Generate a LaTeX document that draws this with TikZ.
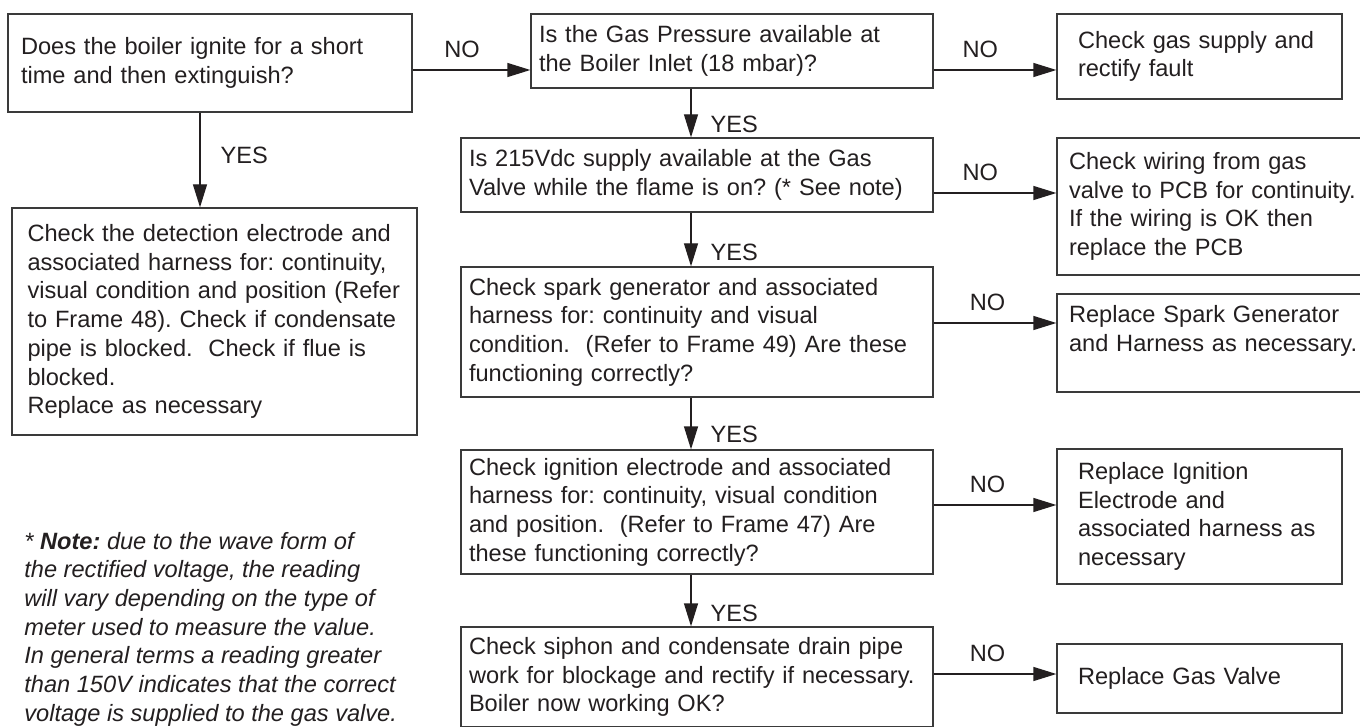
\documentclass[tikz,border=0pt]{standalone}
\usepackage{fontspec}
\setmainfont{Liberation Sans}
\usepackage{xcolor}
\definecolor{flowLine}{HTML}{3A3A3A}
\definecolor{flowText}{HTML}{231F20}
\usetikzlibrary{arrows.meta}
\frenchspacing
\hyphenpenalty=10000

\begin{document}
\begin{tikzpicture}[x=0.5pt, y=-0.5pt,
  box/.style={draw=flowLine, line width=0.65pt, rectangle, align=left, inner ysep=0pt, text=flowText, font=\fontsize{11.8}{14.35}\selectfont},
  midbox/.style={box, text width=228pt, inner xsep=4pt},
  sidebox/.style={box, text width=121.5pt, inner xsep=10.5pt},
  widebox/.style={box, text width=149pt, inner xsep=6pt},
  flow/.style={draw=flowText, line width=0.65pt, -{Triangle[length=11.5pt,width=7pt]}},
  lbl/.style={inner sep=0pt, text=flowText, font=\fontsize{11.8}{14.35}\selectfont}]
  \useasboundingbox (0,0) rectangle (1360,727);
  \fill[white] (0,0) rectangle (1360,727);
  \node[box, text width=189pt, inner xsep=6.5pt, minimum height=49pt] (start) at (210,63) {Does the boiler ignite for a short\\time and then extinguish?};
  \node[box, text width=187pt, inner xsep=7.75pt, minimum height=113.5pt] (detect) at (214.5,321.5) {Check the detection electrode and\\associated harness for: continuity,\\visual condition and position (Refer\\to Frame 48). Check if condensate\\pipe is blocked.\ \ Check if flue is\\blocked.\\Replace as necessary};
  \node[box, text width=193pt, inner xsep=4pt, minimum height=37pt] (pressure) at (732,51) {Is the Gas Pressure available at\\the Boiler Inlet (18 mbar)?};
  \node[sidebox, minimum height=42.5pt] (supply) at (1199.5,56.5) {Check gas supply and\\rectify fault};
  \node[midbox, minimum height=37pt] (volts) at (697,175) {Is 215Vdc supply available at the Gas\\Valve while the flame is on? (* See note)};
  \node[widebox, minimum height=68.5pt] (wiring) at (1218,206.5) {Check wiring from gas\\valve to PCB for continuity.\\If the wiring is OK then\\replace the PCB};
  \node[midbox, minimum height=65pt] (spark) at (697,332) {Check spark generator and associated\\harness for: continuity and visual\\condition.\ \ (Refer to Frame 49) Are these\\functioning correctly?};
  \node[widebox, minimum height=49pt] (sparkfix) at (1218,343) {Replace Spark Generator\\and Harness as necessary.\\\mbox{}};
  \node[midbox, minimum height=62pt] (ignite) at (697,512) {Check ignition electrode and associated\\harness for: continuity, visual condition\\and position.\ \ (Refer to Frame 47) Are\\these functioning correctly?};
  \node[sidebox, minimum height=67.5pt] (ignfix) at (1199.5,516.5) {Replace Ignition\\Electrode and\\associated harness as\\necessary};
  \node[midbox, minimum height=50pt] (siphon) at (697,677) {Check siphon and condensate drain pipe\\work for blockage and rectify if necessary.\\Boiler now working OK?};
  \node[sidebox, minimum height=34.5pt] (valvefix) at (1199.5,678.5) {Replace Gas Valve};
  \node[lbl, align=left, anchor=west, font=\fontsize{11.8}{14.35}\selectfont\itshape] (note) at (24,629) {* \textbf{Note:} due to the wave form of\\the rectified voltage, the reading\\will vary depending on the type of\\meter used to measure the value.\\In general terms a reading greater\\than 150V indicates that the correct\\voltage is supplied to the gas valve.};
  \coordinate (spine) at (691,0);
  \draw[flow] ([yshift=-3.5pt]start.east) -- ([yshift=-3.5pt]start.east -| pressure.west) node[lbl, above=6pt, pos=0.42] (no1) {NO};
  \draw[flow] ([xshift=-5pt]start.south) -- ([xshift=-5pt]start.south |- detect.north) node[lbl, right=10pt, pos=0.45] (yes1) {YES};
  \draw[flow] ([yshift=-9.5pt]pressure.east) -- ([yshift=-9.5pt]pressure.east -| supply.west) node[lbl, above=6pt, pos=0.38] (no2) {NO};
  \draw[flow] (spine |- pressure.south) -- (spine |- volts.north) node[lbl, right=9.5pt, pos=0.74] (yes2) {YES};
  \draw[flow] ([yshift=-9pt]volts.east) -- ([yshift=-9pt]volts.east -| wiring.west) node[lbl, above=6pt, pos=0.38] (no3) {NO};
  \draw[flow] (spine |- volts.south) -- (spine |- spark.north) node[lbl, right=9.5pt, pos=0.74] (yes3) {YES};
  \draw[flow] ([yshift=4.5pt]spark.east) -- ([yshift=4.5pt]spark.east -| sparkfix.west) node[lbl, above=6pt, pos=0.44] (no4) {NO};
  \draw[flow] (spine |- spark.south) -- (spine |- ignite.north) node[lbl, right=9.5pt, pos=0.72] (yes4) {YES};
  \draw[flow] ([yshift=3.5pt]ignite.east) -- ([yshift=3.5pt]ignite.east -| ignfix.west) node[lbl, above=6pt, pos=0.44] (no5) {NO};
  \draw[flow] (spine |- ignite.south) -- (spine |- siphon.north) node[lbl, right=9.5pt, pos=0.74] (yes5) {YES};
  \draw[flow] ([yshift=1.5pt]siphon.east) -- ([yshift=1.5pt]siphon.east -| valvefix.west) node[lbl, above=6pt, pos=0.44] (no6) {NO};
\end{tikzpicture}
\end{document}
